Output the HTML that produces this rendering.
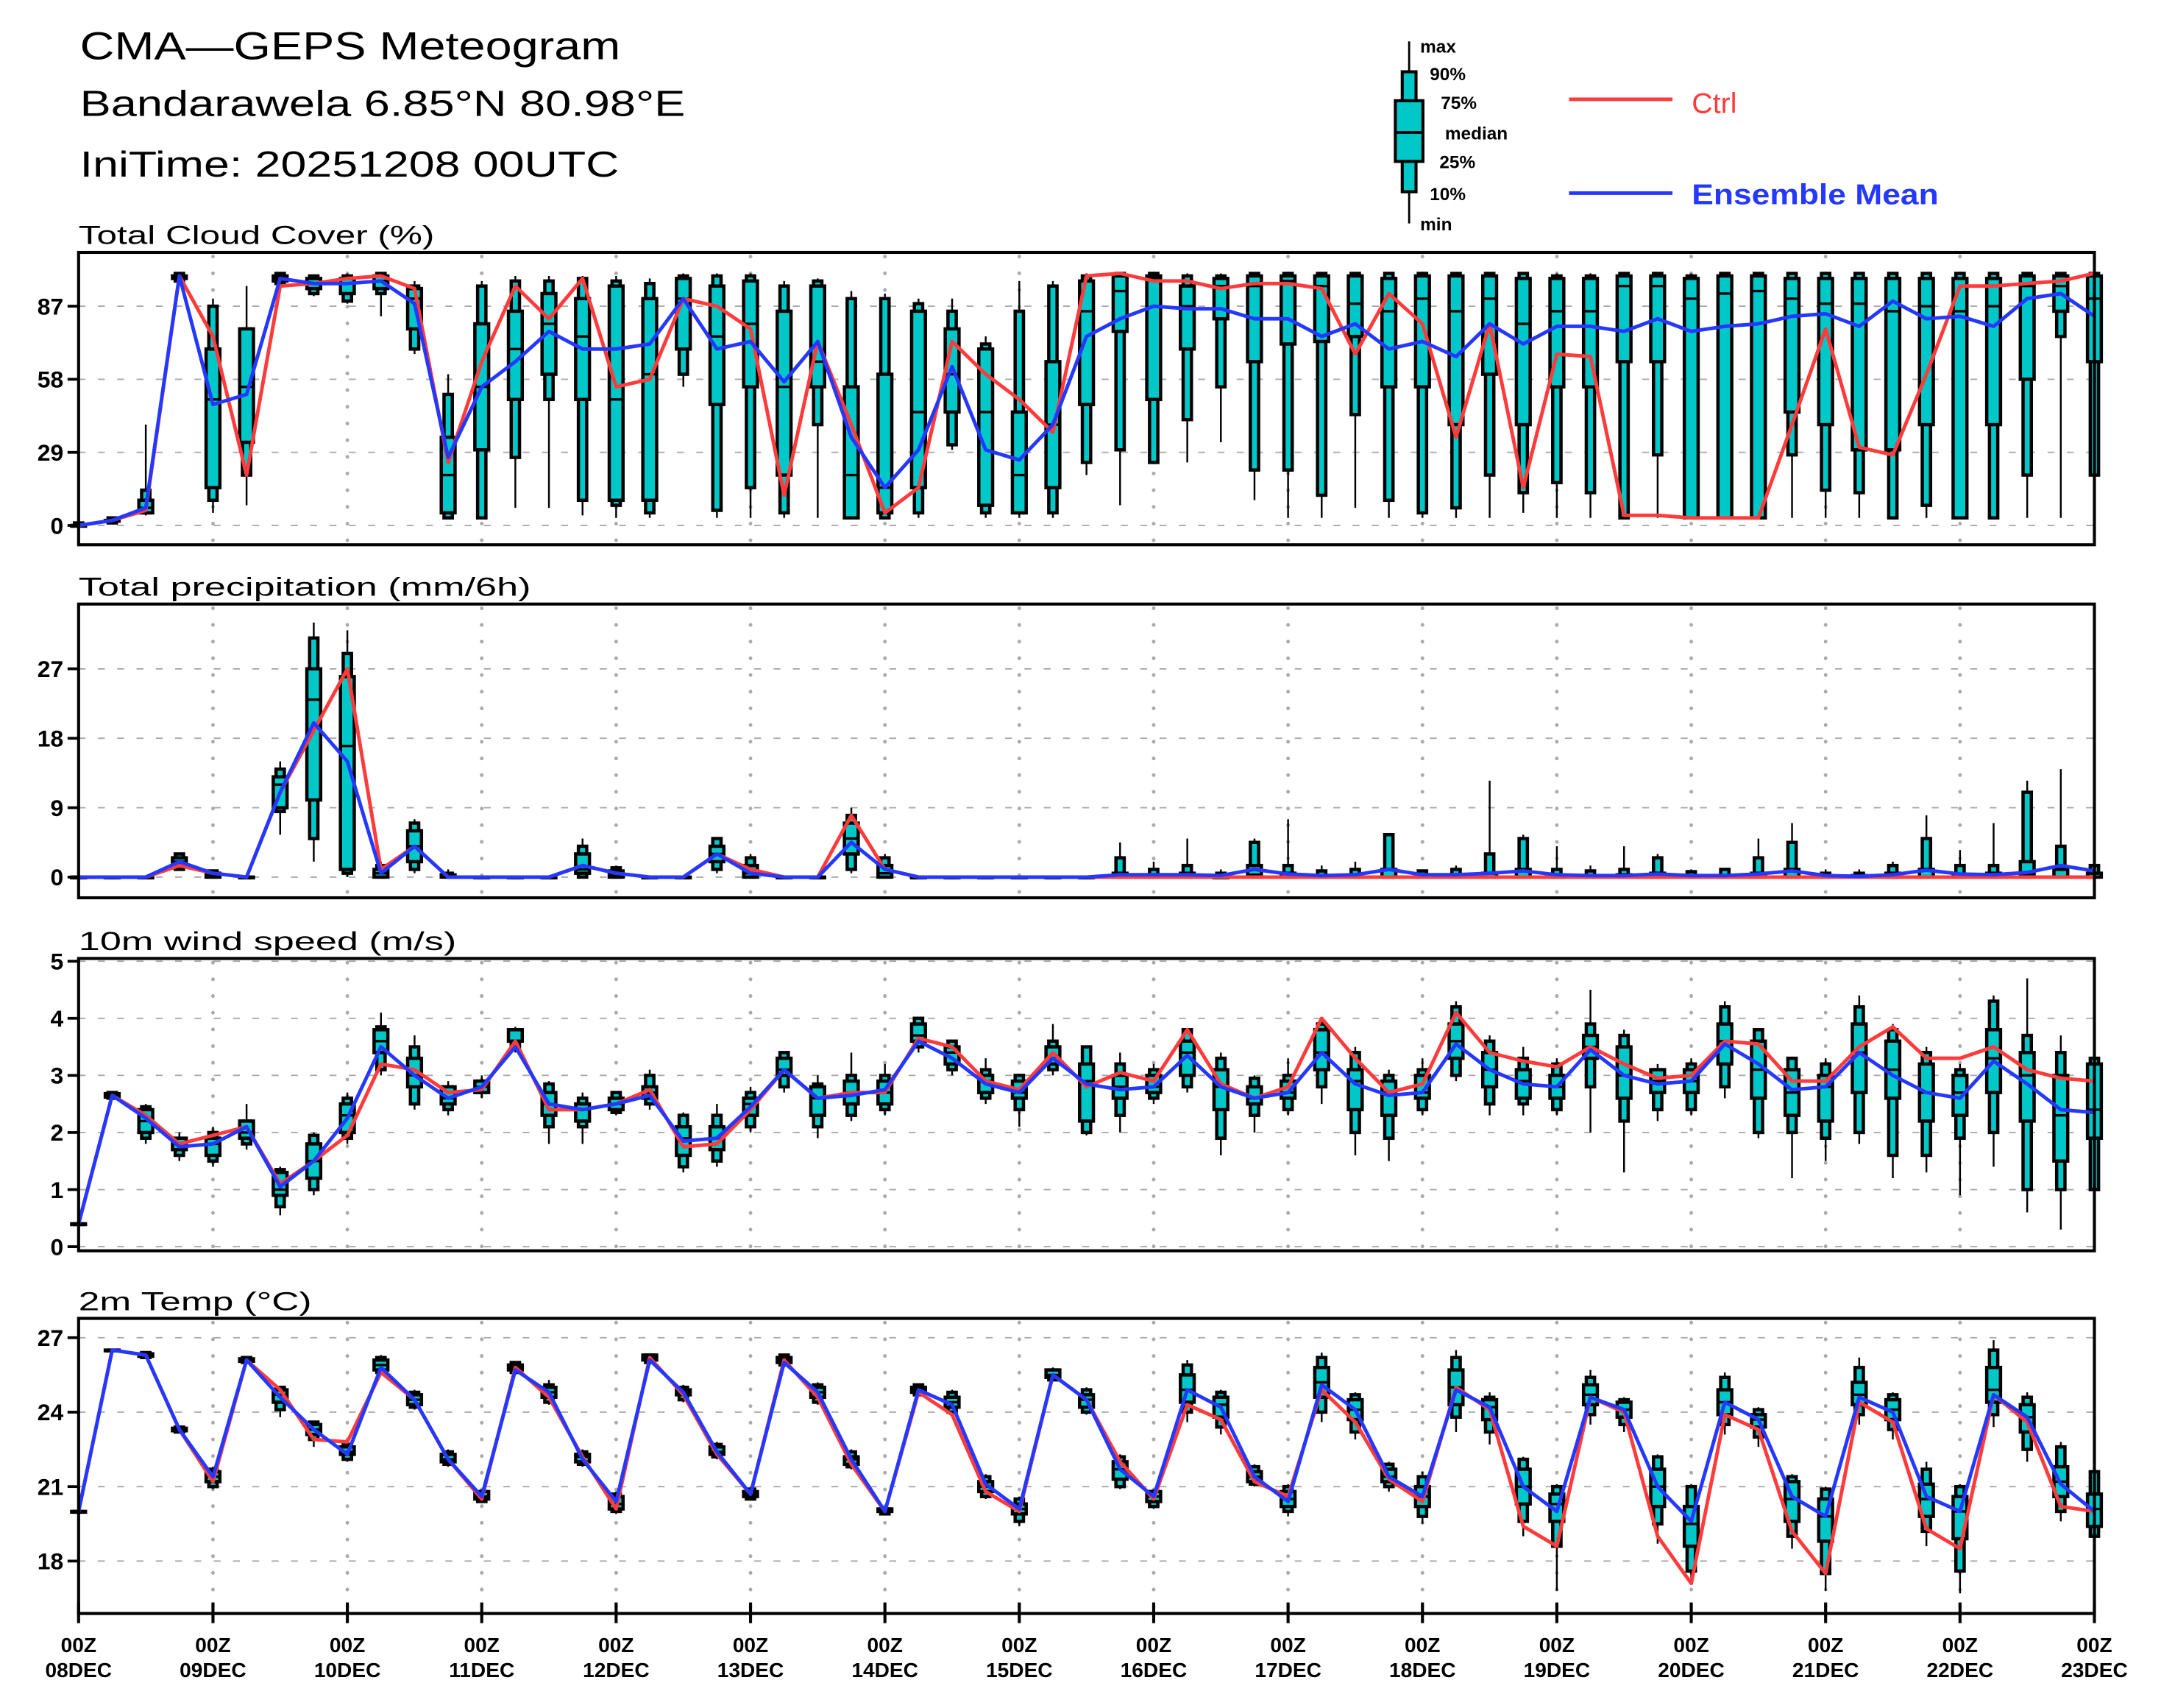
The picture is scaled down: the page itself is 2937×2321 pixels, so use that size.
<!DOCTYPE html>
<html><head><meta charset="utf-8"><title>CMA-GEPS Meteogram</title>
<style>html,body{margin:0;padding:0;background:#fff;}svg{display:block;}
text{font-family:"Liberation Sans","DejaVu Sans",sans-serif;}</style></head>
<body>
<svg id="chart" xmlns="http://www.w3.org/2000/svg" width="2937" height="2321" viewBox="0 0 1567.3 1238.5">
<rect width="1567.3" height="1238.5" fill="#fff"/>
<g>
<text x="58" y="43" font-size="28" textLength="392" lengthAdjust="spacingAndGlyphs">CMA—GEPS Meteogram</text>
<text x="58" y="84" font-size="26" textLength="439" lengthAdjust="spacingAndGlyphs">Bandarawela 6.85°N 80.98°E</text>
<text x="58" y="128" font-size="26" textLength="391" lengthAdjust="spacingAndGlyphs">IniTime: 20251208 00UTC</text>
</g>
<g id="legend"></g>
<g id="plots"></g>
</svg>
<script>
const NS="http://www.w3.org/2000/svg";
const dayLabels=["08DEC","09DEC","10DEC","11DEC","12DEC","13DEC","14DEC","15DEC","16DEC","17DEC","18DEC","19DEC","20DEC","21DEC","22DEC","23DEC"];
const cloudTicks=[0,29,58,87];
const precipTicks=[0,9,18,27];
const windTicks=[0,1,2,3,4,5];
const tempTicks=[18,21,24,27];
const cloudCtrl=[0,2,6,99,75,20,95,96,98,99,94,25,65,95,82,98,55,58,90,87,78,12,73,40,5,15,73,60,50,37,99,100,97,97,94,96,96,94,68,92,80,35,80,15,68,67,4,4,3,3,3,40,78,31,28,60,95,95,96,97,100];
const cloudMean=[0,2,7,99,48,52,98,96,96,97,88,27,55,65,77,70,70,72,90,70,73,57,73,35,15,30,63,30,26,40,75,82,87,86,86,82,82,75,80,70,73,67,80,72,79,79,77,82,77,79,80,83,84,79,89,82,83,79,90,92,83];
const cloudBox=[[0,0,0,0,0,1,1],[1,1,2,2,2,3,3],[4,5,5,7,10,14,40],[96,97,98,99,99,100,100],[5,10,15,50,70,87,90],[8,20,33,55,78,78,95],[96,96,97,98,99,100,100],[91,92,94,96,98,99,99],[88,89,92,96,98,99,100],[83,92,94,97,99,100,100],[68,70,78,90,94,95,97],[3,3,5,20,35,52,60],[3,3,30,55,80,95,97],[7,27,50,70,85,97,99],[7,50,60,80,92,97,99],[4,10,50,75,90,98,99],[3,8,10,50,95,97,99],[3,5,10,60,90,96,98],[55,60,70,90,98,99,100],[3,6,48,75,95,99,100],[3,15,55,80,97,99,100],[3,5,20,55,85,95,97],[3,40,55,65,95,97,98],[3,3,3,20,55,90,93],[3,3,5,15,60,90,92],[3,5,15,45,85,88,90],[30,32,45,60,78,85,90],[3,5,8,45,70,72,75],[3,5,5,20,45,85,97],[3,5,15,40,65,95,97],[20,25,48,85,97,99,100],[8,30,77,93,99,100,100],[25,25,50,98,99,100,100],[25,42,70,87,95,99,100],[33,55,82,95,98,99,100],[10,22,65,95,99,100,100],[3,22,72,97,99,100,100],[3,12,73,95,99,100,100],[7,44,75,88,99,100,100],[3,10,55,85,98,100,100],[3,5,55,90,99,100,100],[3,7,40,85,99,100,100],[3,20,60,90,99,100,100],[5,13,40,80,98,100,100],[3,17,55,85,98,99,100],[3,13,55,85,98,99,100],[3,3,65,95,99,100,100],[3,28,65,95,99,100,100],[3,3,3,90,98,99,100],[3,3,3,92,99,100,100],[3,3,3,93,99,100,100],[3,28,45,90,98,100,100],[3,14,40,88,98,100,100],[3,13,30,88,98,100,100],[3,3,30,85,98,100,100],[3,8,40,87,98,100,100],[3,3,3,85,98,100,100],[3,3,40,87,98,100,100],[3,20,58,95,99,100,100],[3,75,85,95,99,100,100],[20,20,65,90,99,100,100]];
const precipCtrl=[0,0,0,1.5,0.5,0,11,19,27,1,4,0,0,0,0,1.5,0.5,0,0,3,1,0,0,8,1,0,0,0,0,0,0,0,0,0,0,0,0,0,0,0,0,0,0,0,0,0,0,0,0,0,0,0,0,0,0,0,0,0,0,0,0];
const precipMean=[0,0,0,2,0.5,0,11,20,15,0.5,4,0,0,0,0,1.5,0.5,0,0,3,0.5,0,0,4.5,1,0,0,0,0,0,0,0.3,0.3,0.3,0.2,1,0.4,0.2,0.3,1,0.3,0.3,0.5,0.8,0.3,0.2,0.2,0.4,0.2,0.2,0.4,0.8,0.2,0.1,0.3,0.9,0.4,0.3,0.6,1.5,0.8];
const precipBox=[[0,0,0,0,0,0,0],[0,0,0,0,0,0,0],[0,0,0,0,0,0,0],[1,1,1.5,2,2.5,3,3],[0,0,0,0.3,0.5,0.8,1],[0,0,0,0,0,0,0],[5.5,8.5,9,12,13,14,15],[2,5,10,23,27,31,33],[0,0.5,1,17,26,29,32],[0,0,0,0.5,1,1.5,2],[0.5,1,2,4,6,7,7.5],[0,0,0,0,0.3,0.5,1],[0,0,0,0,0,0,0],[0,0,0,0,0,0,0],[0,0,0,0,0,0,0],[0,0,0.5,1,3,4,5],[0,0,0,0.3,0.8,1.2,1.5],[0,0,0,0,0,0,0],[0,0,0,0,0,0,0],[0.5,1,2,3,4,5,5],[0,0,0,0.5,1.5,2.5,3],[0,0,0,0,0,0,0],[0,0,0,0,0,0,0],[0.5,1,3,5,7,8,9],[0,0,0,0.5,1.5,2.5,3],[0,0,0,0,0,0,0],[0,0,0,0,0,0,0],[0,0,0,0,0,0,0],[0,0,0,0,0,0,0],[0,0,0,0,0,0,0],[0,0,0,0,0,0,0],[0,0,0,0,0.5,2.5,4.5],[0,0,0,0,0.3,1,2],[0,0,0,0,0.5,1.5,5],[0,0,0,0,0,0.5,1],[0,0,0,0.3,1.5,4.5,5],[0,0,0,0,0.5,1.5,7.5],[0,0,0,0,0.2,0.8,1.5],[0,0,0,0,0.3,1,2],[0,0,0,0,1,5.5,5.5],[0,0,0,0,0.3,0.8,1],[0,0,0,0,0.3,1,1.5],[0,0,0,0,0.5,3,12.5],[0,0,0,0,1,5,5.5],[0,0,0,0,0.3,1,4],[0,0,0,0,0.2,0.8,1.5],[0,0,0,0,0.3,1,4],[0,0,0,0,0.5,2.5,3],[0,0,0,0,0.2,0.7,1],[0,0,0,0,0.2,1,1],[0,0,0,0,0.5,2.5,5],[0,0,0,0,1,4.5,7],[0,0,0,0,0.2,0.5,1],[0,0,0,0,0.2,0.5,1],[0,0,0,0,0.5,1.5,2],[0,0,0,0,1,5,8],[0,0,0,0,0.3,1.5,3.5],[0,0,0,0,0.5,1.5,7],[0,0,0,0.3,2,11,12.5],[0,0,0,0,1,4,14],[0,0,0,0,0.5,1.5,2]];
const windCtrl=[0.4,2.65,2.3,1.8,1.95,2.1,1.1,1.5,1.95,3.2,3.1,2.7,2.75,3.6,2.4,2.4,2.5,2.75,1.75,1.8,2.4,3.1,2.6,2.7,2.7,3.65,3.5,2.9,2.75,3.4,2.8,3.05,2.9,3.8,2.85,2.6,2.8,4.0,3.3,2.7,2.85,4.1,3.4,3.25,3.15,3.5,3.2,2.95,3.0,3.6,3.55,2.9,2.9,3.5,3.85,3.3,3.3,3.5,3.1,2.95,2.9];
const windMean=[0.4,2.65,2.25,1.75,1.8,2.1,1.05,1.5,2.25,3.5,3.0,2.6,2.8,3.5,2.5,2.4,2.5,2.65,1.85,1.9,2.45,3.1,2.6,2.65,2.75,3.6,3.3,2.85,2.7,3.3,2.85,2.75,2.8,3.35,2.8,2.6,2.7,3.4,2.85,2.65,2.7,3.55,3.1,2.85,2.8,3.45,3.0,2.85,2.9,3.55,3.2,2.75,2.8,3.4,3.0,2.7,2.6,3.25,2.85,2.4,2.35];
const windBox=[[0.4,0.4,0.4,0.4,0.4,0.4,0.4],[2.6,2.6,2.62,2.65,2.68,2.7,2.7],[1.8,1.9,2.0,2.2,2.4,2.45,2.5],[1.5,1.6,1.7,1.8,1.9,1.9,2.0],[1.4,1.5,1.6,1.8,1.9,2.0,2.1],[1.7,1.8,1.9,2.0,2.2,2.2,2.5],[0.55,0.7,0.9,1.0,1.3,1.35,1.4],[0.9,1.0,1.2,1.5,1.8,1.95,2.0],[1.8,1.9,2.0,2.3,2.5,2.6,2.7],[3.0,3.1,3.4,3.6,3.8,3.85,4.1],[2.4,2.5,2.8,3.0,3.3,3.5,3.7],[2.3,2.4,2.5,2.6,2.8,2.8,2.9],[2.6,2.7,2.7,2.8,2.9,2.9,3.0],[3.4,3.5,3.6,3.6,3.8,3.8,3.85],[1.8,2.1,2.3,2.5,2.7,2.85,2.9],[1.8,2.1,2.2,2.4,2.5,2.6,2.7],[2.3,2.35,2.4,2.5,2.6,2.7,2.7],[2.4,2.5,2.6,2.7,2.8,3.0,3.1],[1.3,1.4,1.6,1.9,2.1,2.3,2.35],[1.4,1.5,1.7,1.9,2.1,2.3,2.5],[2.0,2.1,2.3,2.5,2.6,2.7,2.8],[2.7,2.8,3.0,3.1,3.3,3.4,3.4],[1.9,2.1,2.3,2.6,2.8,2.85,3.0],[2.2,2.3,2.5,2.7,2.9,3.0,3.4],[2.3,2.4,2.5,2.7,2.9,3.0,3.2],[3.4,3.5,3.6,3.7,3.9,4.0,4.0],[3.0,3.1,3.2,3.4,3.5,3.6,3.6],[2.5,2.6,2.7,2.9,3.0,3.1,3.3],[2.1,2.4,2.6,2.7,2.9,3.0,3.0],[3.0,3.1,3.2,3.3,3.5,3.6,3.9],[1.95,2.0,2.2,2.9,3.2,3.5,3.5],[2.0,2.3,2.6,2.8,3.0,3.2,3.4],[2.5,2.6,2.7,2.8,3.0,3.1,3.2],[2.7,2.8,3.0,3.4,3.6,3.8,3.8],[1.6,1.9,2.4,2.8,3.1,3.3,3.4],[2.0,2.3,2.5,2.6,2.8,2.95,3.0],[2.3,2.4,2.6,2.7,2.9,3.0,3.3],[2.5,2.8,3.1,3.4,3.8,3.9,4.0],[1.6,2.0,2.4,2.9,3.1,3.4,3.5],[1.5,1.9,2.3,2.7,2.9,3.0,3.1],[2.3,2.4,2.6,2.7,3.0,3.1,3.3],[2.9,3.0,3.3,3.6,3.9,4.2,4.3],[2.3,2.5,2.8,3.1,3.4,3.6,3.7],[2.3,2.5,2.6,2.9,3.1,3.3,3.5],[2.3,2.4,2.6,2.8,3.0,3.2,3.3],[2.0,2.8,3.3,3.5,3.7,3.9,4.5],[1.3,2.2,2.6,3.0,3.5,3.7,3.8],[2.2,2.4,2.7,2.9,3.1,3.1,3.2],[2.3,2.4,2.7,2.9,3.1,3.2,3.3],[2.6,2.8,3.2,3.6,3.9,4.2,4.3],[1.9,2.0,2.6,3.1,3.6,3.8,3.8],[1.2,2.0,2.3,2.7,3.1,3.3,3.3],[1.5,1.9,2.2,2.8,3.0,3.2,3.3],[1.8,2.0,2.7,3.4,3.9,4.2,4.4],[1.2,1.6,2.6,3.1,3.6,3.8,3.9],[1.3,1.6,2.2,2.7,3.2,3.4,3.5],[0.9,1.9,2.3,2.7,3.0,3.1,3.2],[1.4,2.0,2.7,3.3,3.8,4.3,4.4],[0.6,1.0,2.2,3.0,3.4,3.7,4.7],[0.3,1.0,1.5,2.3,3.0,3.4,3.7],[1.0,1.0,1.9,2.4,3.2,3.3,3.3]];
const tempCtrl=[20.0,26.5,26.3,23.3,21.2,26.1,24.9,22.9,22.8,25.6,24.5,22.1,20.5,25.8,24.6,22.2,20.1,26.2,24.7,22.3,20.7,26.1,24.6,21.9,20.0,24.8,23.9,20.8,20.0,25.5,24.5,22.0,20.5,24.3,23.7,21.2,20.6,24.9,23.6,21.3,20.4,25.0,24.1,19.4,18.6,24.6,24.0,19.0,17.1,23.9,23.3,19.2,17.5,24.4,23.6,19.3,18.5,24.7,23.6,20.2,20.0];
const tempMean=[20.0,26.5,26.3,23.3,21.4,26.1,24.6,23.3,22.3,25.8,24.5,22.1,20.6,25.7,24.8,22.1,20.4,26.1,24.8,22.4,20.7,26.0,24.8,22.1,20.0,24.9,24.3,21.1,20.1,25.5,24.5,21.7,20.6,24.9,24.2,21.4,20.4,25.1,24.1,21.4,20.6,24.9,24.2,21.0,20.0,24.6,24.1,21.0,19.6,24.4,23.7,20.6,19.8,24.6,24.0,20.6,20.0,24.7,23.8,21.1,20.0];
const tempBox=[[20,20,20,20,20,20,20],[26.5,26.5,26.5,26.5,26.5,26.5,26.5],[26.2,26.2,26.25,26.3,26.35,26.4,26.4],[23.2,23.2,23.25,23.3,23.35,23.4,23.4],[20.9,21.0,21.2,21.4,21.6,21.7,21.8],[26.0,26.0,26.05,26.1,26.15,26.2,26.2],[23.8,24.1,24.4,24.7,24.9,25.0,25.0],[22.6,22.9,23.1,23.3,23.5,23.6,23.6],[22.0,22.1,22.3,22.4,22.6,22.7,22.9],[25.5,25.6,25.7,25.9,26.1,26.2,26.3],[24.1,24.2,24.3,24.5,24.7,24.8,24.9],[21.8,21.9,22.0,22.1,22.3,22.4,22.5],[20.4,20.4,20.5,20.6,20.8,20.8,20.9],[25.5,25.6,25.7,25.8,25.9,26.0,26.0],[24.3,24.4,24.6,24.8,25.0,25.1,25.3],[21.8,21.9,22.0,22.2,22.3,22.4,22.5],[19.9,20.0,20.1,20.3,20.6,20.7,20.8],[25.9,26.0,26.1,26.2,26.3,26.3,26.3],[24.4,24.5,24.7,24.8,24.9,25.0,25.1],[22.1,22.2,22.3,22.4,22.6,22.7,22.8],[20.5,20.5,20.6,20.7,20.8,20.9,21.0],[25.8,25.9,26.0,26.1,26.2,26.3,26.3],[24.3,24.4,24.6,24.8,25.0,25.1,25.2],[21.7,21.8,21.9,22.1,22.2,22.4,22.5],[19.9,19.9,20.0,20.0,20.1,20.1,20.2],[24.7,24.7,24.8,24.9,25.0,25.1,25.1],[23.9,24.0,24.2,24.4,24.6,24.8,24.9],[20.5,20.6,20.8,21.0,21.2,21.4,21.5],[19.4,19.6,19.9,20.1,20.3,20.5,20.6],[25.3,25.3,25.4,25.5,25.7,25.7,25.8],[23.9,24.0,24.2,24.5,24.7,24.9,25.0],[20.9,21.0,21.3,21.7,22.0,22.2,22.3],[20.1,20.2,20.4,20.6,20.8,20.8,20.9],[23.6,24.0,24.4,24.9,25.5,25.9,26.1],[23.1,23.4,23.8,24.3,24.6,24.8,24.9],[21.0,21.1,21.2,21.4,21.6,21.8,21.9],[19.8,20.0,20.2,20.5,20.8,21.0,21.1],[23.6,24.0,24.6,25.2,25.8,26.2,26.4],[22.9,23.2,23.7,24.1,24.5,24.7,24.8],[20.8,21.0,21.2,21.4,21.7,21.9,22.0],[19.5,19.8,20.2,20.6,21.0,21.4,21.6],[23.2,23.8,24.3,25.0,25.7,26.2,26.5],[22.7,23.2,23.7,24.2,24.5,24.6,24.8],[19.0,19.6,20.3,21.0,21.7,22.1,22.2],[16.8,18.6,19.6,20.3,20.7,21.0,21.1],[23.5,23.9,24.3,24.7,25.1,25.4,25.7],[23.2,23.5,23.8,24.1,24.4,24.5,24.6],[18.7,19.5,20.2,21.0,21.7,22.2,22.3],[17.1,17.6,18.6,19.5,20.2,21.0,21.1],[23.1,23.5,23.9,24.4,24.9,25.4,25.6],[22.6,23.0,23.4,23.7,23.9,24.1,24.2],[18.5,19.0,19.6,20.5,21.2,21.4,21.5],[16.8,17.5,18.8,19.8,20.5,20.9,21.0],[23.5,23.9,24.3,24.7,25.2,25.8,26.2],[22.9,23.3,23.7,24.1,24.5,24.7,24.8],[18.6,19.2,19.8,20.5,21.1,21.7,22.0],[16.7,17.6,18.9,20.0,20.6,21.0,21.1],[23.4,23.9,24.4,24.9,25.8,26.5,26.9],[22.0,22.5,23.2,23.8,24.3,24.6,24.8],[19.6,20.0,20.6,21.2,21.8,22.6,22.8],[18.5,19.0,19.4,20.1,20.7,21.6,22.2]];

const X0=57, X1=1519, NSTEP=60;
function xOf(i){return X0+(X1-X0)*i/NSTEP;}
function mk(tag,attrs,parent){const e=document.createElementNS(NS,tag);for(const k in attrs)e.setAttribute(k,attrs[k]);parent.appendChild(e);return e;}
const plots=document.getElementById('plots');

const panels=[
 {key:'cloud',title:'Total Cloud Cover (%)',tw:258,top:183,bot:395,vA:0,yA:381,vB:87,yB:222,ticks:cloudTicks,ctrl:cloudCtrl,mean:cloudMean,box:cloudBox,clamp:[0,100]},
 {key:'precip',title:'Total precipitation (mm/6h)',tw:328,top:438,bot:651,vA:0,yA:636,vB:27,yB:485,ticks:precipTicks,ctrl:precipCtrl,mean:precipMean,box:precipBox},
 {key:'wind',title:'10m wind speed (m/s)',tw:274,top:695,bot:907,vA:0,yA:904,vB:5,yB:697,ticks:windTicks,ctrl:windCtrl,mean:windMean,box:windBox},
 {key:'temp',title:'2m Temp (°C)',tw:169,top:956,bot:1170,vA:18,yA:1132,vB:27,yB:970,ticks:tempTicks,ctrl:tempCtrl,mean:tempMean,box:tempBox}
];

panels.forEach(function(p,pi){
 const yOf=function(v){return p.yA+(v-p.vA)*(p.yB-p.yA)/(p.vB-p.vA);};
 const g=mk('g',{},plots);
 
 
 const t=mk('text',{x:57,y:p.top-6,'font-size':19,textLength:p.tw,lengthAdjust:'spacingAndGlyphs'},g);
 t.textContent=p.title;
 
 
 // horizontal grid
 p.ticks.forEach(function(v){
  const y=yOf(v);
  const gl=mk('line',{x1:X0,x2:X1,y1:y,y2:y,stroke:'#aaa','stroke-width':1,'stroke-dasharray':'5 9'},g);
  
  
  mk('line',{x1:X0-8,x2:X0,y1:y,y2:y,stroke:'#000','stroke-width':2},g);
  const tl=mk('text',{x:46,y:y+6,'font-size':17,'font-weight':'bold','text-anchor':'end'},g);
  tl.textContent=String(v);
  
  
 });
 // vertical day grid
 for(let d=1;d<15;d++){
  const x=xOf(d*4);
  const vl=mk('line',{x1:x,x2:x,y1:p.top+3,y2:p.bot,stroke:'#aaa','stroke-width':2.6,'stroke-dasharray':'0.1 12','stroke-linecap':'round'},g);
  
  
 }
 // boxes
 const bg=mk('g',{},g);
 
 
 p.box.forEach(function(b,i){
  const x=xOf(i);
  const y=b.map(yOf);
  const bx=mk('g',{},bg);
  
  
  mk('line',{x1:x,x2:x,y1:y[0],y2:y[6],stroke:'#000','stroke-width':1.3},bx);
  mk('rect',{x:x-3,y:y[5],width:6,height:Math.max(y[1]-y[5],0.5),fill:'#00c8c8',stroke:'#000','stroke-width':2.4},bx);
  mk('rect',{x:x-5,y:y[4],width:10,height:Math.max(y[2]-y[4],0.5),fill:'#00c8c8',stroke:'#000','stroke-width':2.4},bx);
  mk('line',{x1:x-5,x2:x+5,y1:y[3],y2:y[3],stroke:'#000','stroke-width':1.8},bx);
 });
 // lines
 [['ctrl',p.ctrl,'#ff3b3b'],['mean',p.mean,'#2438ff']].forEach(function(s){
  let d='';
  s[1].forEach(function(v,i){d+=(i?'L':'M')+xOf(i).toFixed(2)+' '+yOf(v).toFixed(2);});
  const pl=mk('path',{d:d,fill:'none',stroke:s[2],'stroke-width':2.6,'stroke-linejoin':'round'},g);
  
  
 });
 const fr=mk('rect',{x:X0,y:p.top,width:X1-X0,height:p.bot-p.top,fill:'none',stroke:'#000','stroke-width':2.2},g);
 
 
 if(pi===3){
  dayLabels.forEach(function(lbl,d){
   const x=xOf(d*4);
   mk('line',{x1:x,x2:x,y1:p.bot-8,y2:p.bot+7,stroke:'#000','stroke-width':2.2},g);
   const a=mk('text',{x:x,y:1198,'font-size':15,'font-weight':'bold','text-anchor':'middle'},g);
   a.textContent='00Z';
   
   
   const b=mk('text',{x:x,y:1216,'font-size':15,'font-weight':'bold','text-anchor':'middle'},g);
   b.textContent=lbl;
   
   
  });
 }
});

// legend
const lg=document.getElementById('legend');
mk('line',{x1:1022,x2:1022,y1:30,y2:162,stroke:'#000','stroke-width':1.5},lg);
mk('rect',{x:1017,y:52,width:10,height:87,fill:'#00c8c8',stroke:'#000','stroke-width':2.2},lg);
mk('rect',{x:1012,y:73,width:20,height:44,fill:'#00c8c8',stroke:'#000','stroke-width':2.2},lg);
mk('line',{x1:1012,x2:1032,y1:96,y2:96,stroke:'#000','stroke-width':2},lg);
[['max',1030,38],['90%',1037,58],['75%',1045,79],['median',1048,101],['25%',1044,122],['10%',1037,145],['min',1030,167]].forEach(function(a){
 const t=mk('text',{x:a[1],y:a[2],'font-size':13,'font-weight':'bold'},lg);
 t.textContent=a[0];
 
 
});
const l1=mk('line',{x1:1138,x2:1213,y1:72,y2:72,stroke:'#ff3b3b','stroke-width':2.6},lg);


const t1=mk('text',{x:1227,y:82,'font-size':21,fill:'#ff3b3b'},lg);
t1.textContent='Ctrl';


const l2=mk('line',{x1:1138,x2:1213,y1:140,y2:140,stroke:'#2438ff','stroke-width':2.6},lg);


const t2=mk('text',{x:1227,y:148,'font-size':21,fill:'#2438ff','font-weight':'bold',textLength:179,lengthAdjust:'spacingAndGlyphs'},lg);
t2.textContent='Ensemble Mean';


</script>
</body></html>
